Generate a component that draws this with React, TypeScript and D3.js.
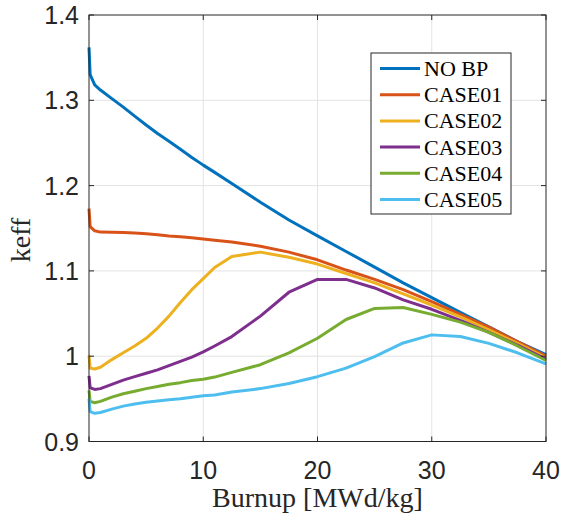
import React, { useEffect, useRef } from 'react';
import * as d3 from 'd3';

// burnup steps [MWd/kg]
const burnup = [0, 0.1, 0.5, 1, 2, 3, 4, 5, 6, 7, 8, 9, 10, 11, 12.5, 15, 17.5, 20, 22.5, 25, 27.5, 30, 32.5, 35, 37.5, 40];

const noBP = [1.362, 1.330, 1.318, 1.312, 1.302, 1.292, 1.2815, 1.271, 1.261, 1.252, 1.2425, 1.233, 1.224, 1.2155, 1.2025, 1.1805, 1.1596, 1.141, 1.1228, 1.1045, 1.086, 1.0686, 1.0514, 1.0343, 1.0171, 1.002];
const case01 = [1.173, 1.152, 1.147, 1.1455, 1.1452, 1.145, 1.1445, 1.1435, 1.1425, 1.141, 1.140, 1.1388, 1.1375, 1.136, 1.134, 1.129, 1.122, 1.113, 1.101, 1.090, 1.078, 1.064, 1.049, 1.034, 1.017, 1.000];
const case02 = [1.001, 0.986, 0.985, 0.987, 0.996, 1.004, 1.012, 1.021, 1.033, 1.047, 1.063, 1.078, 1.091, 1.104, 1.117, 1.122, 1.116, 1.108, 1.097, 1.086, 1.073, 1.060, 1.046, 1.031, 1.015, 0.998];
const case03 = [0.977, 0.963, 0.961, 0.962, 0.967, 0.972, 0.976, 0.980, 0.984, 0.989, 0.994, 0.999, 1.005, 1.012, 1.023, 1.047, 1.075, 1.090, 1.090, 1.080, 1.066, 1.055, 1.042, 1.028, 1.013, 0.9965];
const case04 = [0.960, 0.947, 0.9455, 0.947, 0.952, 0.956, 0.959, 0.962, 0.9645, 0.967, 0.969, 0.9715, 0.973, 0.9755, 0.981, 0.990, 1.004, 1.021, 1.043, 1.056, 1.057, 1.049, 1.040, 1.028, 1.012, 0.995];
const case05 = [0.950, 0.935, 0.933, 0.934, 0.938, 0.9415, 0.944, 0.946, 0.9475, 0.949, 0.950, 0.952, 0.9535, 0.9545, 0.958, 0.962, 0.968, 0.976, 0.986, 0.9995, 1.0155, 1.025, 1.023, 1.015, 1.004, 0.991];

const seriesNames = ['NO BP', 'CASE01', 'CASE02', 'CASE03', 'CASE04', 'CASE05'];
const seriesValues = [noBP, case01, case02, case03, case04, case05];
const colors = ['#0072BD', '#D95319', '#EDB120', '#7E2F8E', '#77AC30', '#4DBEEE'];

const xTicks = [0, 10, 20, 30, 40];
const yTicks = [0.9, 1, 1.1, 1.2, 1.3, 1.4];

const Chart = () => {
  const svgRef = useRef(null);

  useEffect(() => {
    const svg = d3.select(svgRef.current);
    svg.selectAll('*').remove();

    const left = 89, right = 546, top = 15, bottom = 441.5;
    const axisColor = '#262626';
    const sans = 'Liberation Sans, Arial, sans-serif';
    const serif = 'Liberation Serif, Times New Roman, serif';

    const x = d3.scaleLinear().domain([0, 40]).range([left, right]);
    const y = d3.scaleLinear().domain([0.9, 1.4]).range([bottom, top]);

    // grid
    const grid = svg.append('g').attr('stroke', '#e3e3e3').attr('stroke-width', 1);
    xTicks.slice(1, -1).forEach((t) => {
      grid.append('line').attr('x1', x(t)).attr('x2', x(t)).attr('y1', top).attr('y2', bottom);
    });
    yTicks.slice(1, -1).forEach((t) => {
      grid.append('line').attr('x1', left).attr('x2', right).attr('y1', y(t)).attr('y2', y(t));
    });

    // curves
    const line = d3
      .line()
      .x((d) => x(d[0]))
      .y((d) => y(d[1]));

    seriesValues.forEach((vals, i) => {
      const pts = burnup.map((b, j) => [b, vals[j]]);
      svg
        .append('path')
        .attr('d', line(pts))
        .attr('fill', 'none')
        .attr('stroke', colors[i])
        .attr('stroke-width', 3)
        .attr('stroke-linejoin', 'round');
    });

    // box + ticks
    const ax = svg.append('g').attr('stroke', axisColor).attr('stroke-width', 1).attr('fill', 'none');
    ax.append('rect')
      .attr('x', left)
      .attr('y', top)
      .attr('width', right - left)
      .attr('height', bottom - top);
    const tl = 5;
    xTicks.forEach((t) => {
      ax.append('line').attr('x1', x(t)).attr('x2', x(t)).attr('y1', bottom).attr('y2', bottom - tl);
      ax.append('line').attr('x1', x(t)).attr('x2', x(t)).attr('y1', top).attr('y2', top + tl);
    });
    yTicks.forEach((t) => {
      ax.append('line').attr('x1', left).attr('x2', left + tl).attr('y1', y(t)).attr('y2', y(t));
      ax.append('line').attr('x1', right).attr('x2', right - tl).attr('y1', y(t)).attr('y2', y(t));
    });

    // tick labels
    svg
      .append('g')
      .selectAll('text')
      .data(xTicks)
      .enter()
      .append('text')
      .attr('x', (d) => x(d))
      .attr('y', bottom + 37)
      .attr('text-anchor', 'middle')
      .attr('font-family', sans)
      .attr('font-size', 25)
      .attr('fill', axisColor)
      .text((d) => d);

    svg
      .append('g')
      .selectAll('text')
      .data(yTicks)
      .enter()
      .append('text')
      .attr('x', left - 10)
      .attr('y', (d) => y(d) + 9)
      .attr('text-anchor', 'end')
      .attr('font-family', sans)
      .attr('font-size', 25)
      .attr('fill', axisColor)
      .text((d) => d3.format('~g')(d));

    // axis labels
    svg
      .append('text')
      .attr('x', (left + right) / 2)
      .attr('y', 507)
      .attr('text-anchor', 'middle')
      .attr('font-family', serif)
      .attr('font-size', 28)
      .attr('fill', axisColor)
      .text('Burnup [MWd/kg]');

    svg
      .append('text')
      .attr('transform', `translate(30,240) rotate(-90)`)
      .attr('text-anchor', 'middle')
      .attr('font-family', serif)
      .attr('font-size', 28)
      .attr('fill', axisColor)
      .text('keff');

    // legend
    const lg = svg.append('g');
    lg.append('rect')
      .attr('x', 371)
      .attr('y', 53)
      .attr('width', 140)
      .attr('height', 161)
      .attr('fill', 'white')
      .attr('stroke', axisColor)
      .attr('stroke-width', 1);
    seriesNames.forEach((name, i) => {
      const cy = 68.5 + i * 26.2;
      lg.append('line')
        .attr('x1', 380)
        .attr('x2', 420)
        .attr('y1', cy)
        .attr('y2', cy)
        .attr('stroke', colors[i])
        .attr('stroke-width', 3);
      lg.append('text')
        .attr('x', 424)
        .attr('y', cy + 7.5)
        .attr('font-family', serif)
        .attr('font-size', 22)
        .attr('fill', '#000')
        .text(name);
    });
  }, []);

  return (
    <svg
      ref={svgRef}
      width={561}
      height={524}
      style={{ position: 'absolute', left: 0, top: 0, background: 'white' }}
    ></svg>
  );
};

export default function App() {
  return <Chart />;
}
